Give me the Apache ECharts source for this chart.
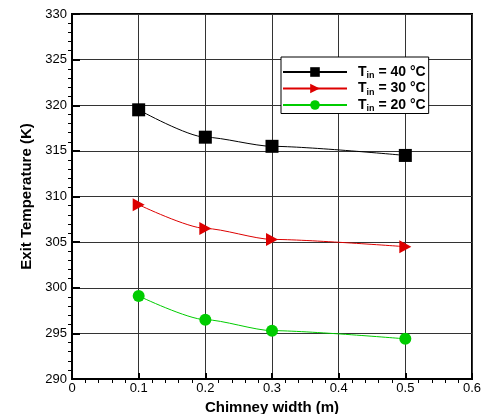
<!DOCTYPE html>
<html><head><meta charset="utf-8">
<script src="https://cdn.jsdelivr.net/npm/echarts@6/dist/echarts.min.js"></script>
<style>html,body{margin:0;padding:0;background:#fff}#c{width:485px;height:414px}</style>
</head><body><div id="c"></div>
<script>
const widths = [0.1, 0.2, 0.3, 0.5];
const t40 = [319.5, 316.5, 315.5, 314.5];
const t30 = [309.1, 306.5, 305.3, 304.5];
const t20 = [299.1, 296.5, 295.3, 294.4];
const names = ['40', '30', '20'];

const chart = echarts.init(document.getElementById('c'));
const pair = (ys) => widths.map((x, i) => [x, ys[i]]);
const font = 'Liberation Sans, Arial, sans-serif';
const tri = 'path://M0,0 L10,5 L0,10 Z';
chart.setOption({
  animation: false,
  textStyle: { fontFamily: font },
  grid: { left: 72, right: 13, top: 14, bottom: 35, outerBoundsMode: 'none', containLabel: false,
    show: true, borderColor: '#000', borderWidth: 2, backgroundColor: 'transparent' },
  xAxis: {
    type: 'value', min: 0, max: 0.6, interval: 0.1,
    name: 'Chimney width (m)', nameLocation: 'middle', nameGap: 13,
    nameTextStyle: { fontFamily: font, fontWeight: 'bold', fontSize: 15, color: '#000' },
    axisLine: { show: true, lineStyle: { color: '#000', width: 2 } },
    axisTick: { show: true, inside: true, length: 6, lineStyle: { color: '#000', width: 2 } },
    minorTick: { show: true, splitNumber: 5, length: -4, lineStyle: { color: '#000', width: 1 } },
    axisLabel: { fontSize: 13, color: '#000', margin: 3, formatter: v => String(Math.round(v * 10) / 10) },
    splitLine: { show: true, lineStyle: { color: '#333', width: 1 } }
  },
  yAxis: {
    type: 'value', min: 290, max: 330, interval: 5,
    name: 'Exit Temperature (K)', nameLocation: 'middle', nameGap: 38, nameRotate: 90,
    nameTextStyle: { fontFamily: font, fontWeight: 'bold', fontSize: 15, color: '#000' },
    axisLine: { show: true, lineStyle: { color: '#000', width: 2 } },
    axisTick: { show: true, inside: true, length: 8, lineStyle: { color: '#000', width: 2 } },
    minorTick: { show: true, splitNumber: 5, length: -4, lineStyle: { color: '#000', width: 1 } },
    axisLabel: { fontSize: 13, color: '#000', margin: 5 },
    splitLine: { show: true, lineStyle: { color: '#333', width: 1 } }
  },
  legend: {
    orient: 'vertical', left: 281, top: 57, width: 147,
    padding: [8, 3, 0, 1], itemGap: 1,
    borderColor: '#000', borderWidth: 1, backgroundColor: '#fff',
    itemWidth: 64, itemHeight: 12,
    data: names.map(n => ({ name: n })),
    formatter: n => '{t|T}{s|in}{b| = ' + n + ' °C}',
    textStyle: {
      rich: {
        t: { fontFamily: font, fontWeight: 'bold', fontSize: 14, color: '#000', padding: [0, 0, 0, 6] },
        b: { fontFamily: font, fontWeight: 'bold', fontSize: 14, color: '#000' },
        s: { fontFamily: font, fontWeight: 'bold', fontSize: 9, color: '#000', padding: [8, 0, 0, 0] }
      }
    }
  },
  series: [
    { name: '40', type: 'line', data: pair(t40), smooth: 0.25, smoothMonotone: 'x', symbol: 'rect', symbolSize: 13,
      itemStyle: { color: '#000' }, lineStyle: { color: '#000', width: 1 }, z: 3 },
    { name: '30', type: 'line', data: pair(t30), smooth: 0.25, smoothMonotone: 'x', symbol: tri, symbolSize: [12, 13],
      itemStyle: { color: '#dd0000' }, lineStyle: { color: '#dd0000', width: 1 }, z: 3 },
    { name: '20', type: 'line', data: pair(t20), smooth: 0.25, smoothMonotone: 'x', symbol: 'circle', symbolSize: 12,
      itemStyle: { color: '#00cc00' }, lineStyle: { color: '#00cc00', width: 1 }, z: 3 }
  ]
});
</script></body></html>
